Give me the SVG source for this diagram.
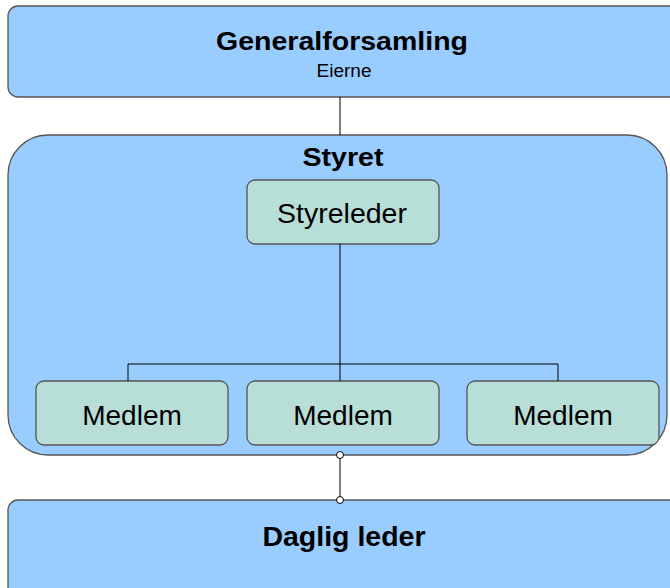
<svg xmlns="http://www.w3.org/2000/svg" width="670" height="588" viewBox="0 0 670 588">
<style>
.blue{fill:#99ccff;stroke:#555;stroke-width:1.3}
.teal{fill:#b8ded8;stroke:#555;stroke-width:1.3}
.t{font-family:"Liberation Sans",Arial,sans-serif;fill:#000;text-anchor:middle}
.b{font-weight:bold}
.line{stroke:#000;stroke-width:1;fill:none}
.dot{fill:#fff;stroke:#000;stroke-width:1}
</style>
<rect width="670" height="588" fill="#fff"/>
<g id="generalforsamling">
<rect class="blue" x="8" y="6" width="680" height="91" rx="10"/>
<text class="t b" x="342" y="49.5" font-size="26" textLength="252" lengthAdjust="spacingAndGlyphs">Generalforsamling</text>
<text class="t" x="344" y="77" font-size="18" textLength="55" lengthAdjust="spacingAndGlyphs">Eierne</text>
</g>
<g id="styret">
<rect class="blue" x="8" y="135" width="659" height="320" rx="40"/>
<text class="t b" x="343" y="166" font-size="26" textLength="81" lengthAdjust="spacingAndGlyphs">Styret</text>
</g>
<g id="styreleder">
<rect class="teal" x="247" y="180" width="192" height="64" rx="8"/>
<text class="t" x="342" y="223" font-size="28.5">Styreleder</text>
</g>
<g id="medlem1">
<rect class="teal" x="36" y="381" width="192" height="64" rx="8"/>
<text class="t" x="132" y="425" font-size="28">Medlem</text>
</g>
<g id="medlem2">
<rect class="teal" x="247" y="381" width="192" height="64" rx="8"/>
<text class="t" x="343" y="425" font-size="28">Medlem</text>
</g>
<g id="medlem3">
<rect class="teal" x="467" y="381" width="192" height="64" rx="8"/>
<text class="t" x="563" y="425" font-size="28">Medlem</text>
</g>
<g id="dagligleder">
<rect class="blue" x="8" y="500" width="680" height="120" rx="10"/>
<text class="t b" x="344" y="546" font-size="28.5">Daglig leder</text>
</g>
<g id="connectors">
<line class="line" x1="340" y1="97" x2="340" y2="135"/>
<line class="line" x1="340" y1="244" x2="340" y2="381"/>
<polyline class="line" points="128,381 128,364 558,364 558,381"/>
<line class="line" x1="340" y1="455" x2="340" y2="500"/>
<circle class="dot" cx="340" cy="455" r="3.5"/>
<circle class="dot" cx="340" cy="500" r="3.5"/>
</g>
</svg>
